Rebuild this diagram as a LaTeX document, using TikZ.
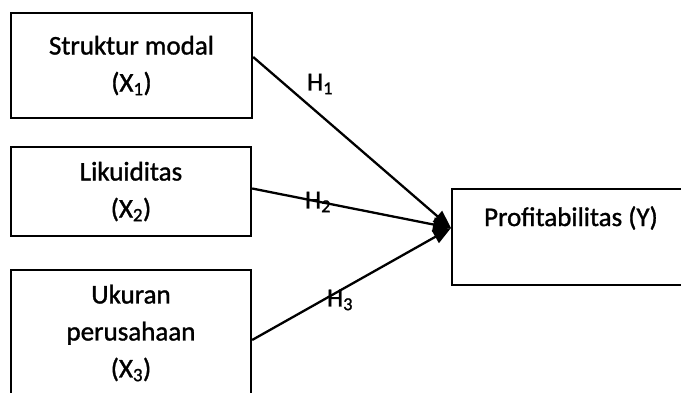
\documentclass[tikz,border=0pt]{standalone}
\usepackage{fontspec}
\setmainfont{Carlito}
\newfontfamily\heavy{Carlito}[FakeBold=1.2]
\usetikzlibrary{arrows.meta}
\begin{document}
\begin{tikzpicture}[x=1pt,y=1pt,
  box/.style={draw=black, line width=2.3pt, rectangle, align=center, inner sep=0pt,
    font=\heavy\fontsize{27}{37}\selectfont},
  conn/.style={line width=2.3pt, -{Triangle[length=18pt,width=14pt]}},
  hlab/.style={font=\heavy\fontsize{26}{30}\selectfont, inner sep=0pt}]
\clip (0,0) rectangle (681,392);
\fill[white] (0,0) rectangle (681,392);
\node[box, minimum width=241pt, minimum height=105pt] (X1) at (131.5,326.5) {Struktur modal\\(X\textsubscript{1})};
\node[box, minimum width=240pt, minimum height=89pt] (X2) at (131,200.5) {Likuiditas\\(X\textsubscript{2})};
\node[box, minimum width=240pt, minimum height=126pt] (X3) at (131,59) {Ukuran\\perusahaan\\(X\textsubscript{3})};
\node[box, minimum width=238pt, minimum height=96pt] (Y) at (571,155) {};
\node[anchor=base, font=\heavy\fontsize{27}{37}\selectfont, inner sep=0pt] (Ylab) at (571,166) {Profitabilitas (Y)};
\coordinate (tip) at (451,164);
\draw[conn] ([yshift=8.5pt]X1.east) -- (tip);
\draw[conn] ([yshift=3pt]X2.east) -- (tip);
\draw[conn] ([yshift=-7pt]X3.east) -- (tip);
\node[hlab] (H1) at (320,308) {H\textsubscript{1}};
\node[hlab] (H2) at (318,190) {H\textsubscript{2}};
\node[hlab] (H3) at (340,92) {H\textsubscript{3}};
\end{tikzpicture}
\end{document}
